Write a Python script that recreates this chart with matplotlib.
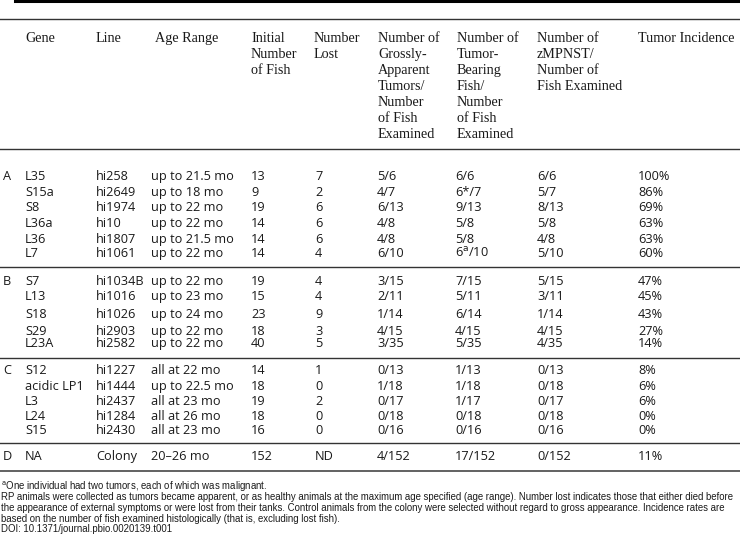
import matplotlib
matplotlib.use("Agg")
import matplotlib.pyplot as plt

# table content
headers = [
    ["Gene"],
    ["Line"],
    ["Age Range"],
    ["Initial", "Number", "of Fish"],
    ["Number", "Lost"],
    ["Number of", "Grossly-", "Apparent", "Tumors/", "Number", "of Fish", "Examined"],
    ["Number of", "Tumor-", "Bearing", "Fish/", "Number", "of Fish", "Examined"],
    ["Number of", "zMPNST/", "Number of", "Fish Examined"],
    ["Tumor Incidence"],
]

groups = ["A", "B", "C", "D"]
genes = [
    ["L35", "S15a", "S8", "L36a", "L36", "L7"],
    ["S7", "L13", "S18", "S29", "L23A"],
    ["S12", "acidic LP1", "L3", "L24", "S15"],
    ["NA"],
]
lines = [
    ["hi258", "hi2649", "hi1974", "hi10", "hi1807", "hi1061"],
    ["hi1034B", "hi1016", "hi1026", "hi2903", "hi2582"],
    ["hi1227", "hi1444", "hi2437", "hi1284", "hi2430"],
    ["Colony"],
]
age_range = [
    ["up to 21.5 mo", "up to 18 mo", "up to 22 mo", "up to 22 mo", "up to 21.5 mo", "up to 22 mo"],
    ["up to 22 mo", "up to 23 mo", "up to 24 mo", "up to 22 mo", "up to 22 mo"],
    ["all at 22 mo", "up to 22.5 mo", "all at 23 mo", "all at 26 mo", "all at 23 mo"],
    ["20\u201326 mo"],
]
initial = [
    ["13", "9", "19", "14", "14", "14"],
    ["19", "15", "23", "18", "40"],
    ["14", "18", "19", "18", "16"],
    ["152"],
]
lost = [
    ["7", "2", "6", "6", "6", "4"],
    ["4", "4", "9", "3", "5"],
    ["1", "0", "2", "0", "0"],
    ["ND"],
]
gross = [
    ["5/6", "4/7", "6/13", "4/8", "4/8", "6/10"],
    ["3/15", "2/11", "1/14", "4/15", "3/35"],
    ["0/13", "1/18", "0/17", "0/18", "0/16"],
    ["4/152"],
]
bearing = [
    ["6/6", "6*/7", "9/13", "5/8", "5/8", "6$^{\\mathrm{a}}$/10"],
    ["7/15", "5/11", "6/14", "4/15", "5/35"],
    ["1/13", "1/18", "1/17", "0/18", "0/16"],
    ["17/152"],
]
zmpnst = [
    ["6/6", "5/7", "8/13", "5/8", "4/8", "5/10"],
    ["5/15", "3/11", "1/14", "4/15", "4/35"],
    ["0/13", "0/18", "0/17", "0/18", "0/16"],
    ["0/152"],
]
incidence = [
    ["100%", "86%", "69%", "63%", "63%", "60%"],
    ["47%", "45%", "43%", "27%", "14%"],
    ["8%", "6%", "6%", "0%", "0%"],
    ["11%"],
]

footnotes = [
    "$^{\\mathrm{a}}$One individual had two tumors, each of which was malignant.",
    "RP animals were collected as tumors became apparent, or as healthy animals at the maximum age specified (age range). Number lost indicates those that either died before",
    "the appearance of external symptoms or were lost from their tanks. Control animals from the colony were selected without regard to gross appearance. Incidence rates are",
    "based on the number of fish examined histologically (that is, excluding lost fish).",
    "DOI: 10.1371/journal.pbio.0020139.t001",
]

# layout (pixels, text baselines)
col_x = [25, 96, 151, 251, 315, 377, 455, 537, 638]
head_x = [25, 96, 155, 251, 314, 378, 457, 537, 638]
row_y = [
    [180, 196, 211, 227, 243, 257],
    [285, 300, 318, 335, 347],
    [374, 390, 405, 420, 434],
    [460],
]
rule_y = [267, 358, 443]

fig = plt.figure(figsize=(7.4, 5.41), dpi=100)
ax = fig.add_axes([0, 0, 1, 1])
ax.set_xlim(0, 740)
ax.set_ylim(541, 0)
ax.axis("off")

body = dict(family="Open Sans", fontsize=9.2, color="#1a1a1a", va="baseline", ha="left")
head = dict(family="Liberation Serif", fontsize=10.2, color="#1a1a1a", va="baseline", ha="left")

ax.plot([15, 740], [1, 1], color="black", lw=2.2)
ax.plot([0, 740], [19, 19], color="#333333", lw=1.0)
ax.plot([0, 740], [149, 149], color="#333333", lw=1.0)
for y in rule_y:
    ax.plot([0, 740], [y, y], color="#333333", lw=1.0)
ax.plot([0, 740], [471, 471], color="#555555", lw=1.3)

for hx, hl in zip(head_x, headers):
    for k, t in enumerate(hl):
        ax.text(hx, 42 + 16 * k, t, **head)

columns = [genes, lines, age_range, initial, lost, gross, bearing, zmpnst, incidence]
for g in range(len(groups)):
    ax.text(3, row_y[g][0], groups[g], **body)
    for cx, col in zip(col_x, columns):
        for r, val in enumerate(col[g]):
            ax.text(cx, row_y[g][r], val, **body)

foot_y = [490, 500.5, 511, 521.5, 532]
for fy, t in zip(foot_y, footnotes):
    ax.text(1, fy, t, family="Liberation Sans", fontsize=6.9, color="#1a1a1a",
            va="baseline", ha="left")

fig.savefig("out.png", dpi=100)
